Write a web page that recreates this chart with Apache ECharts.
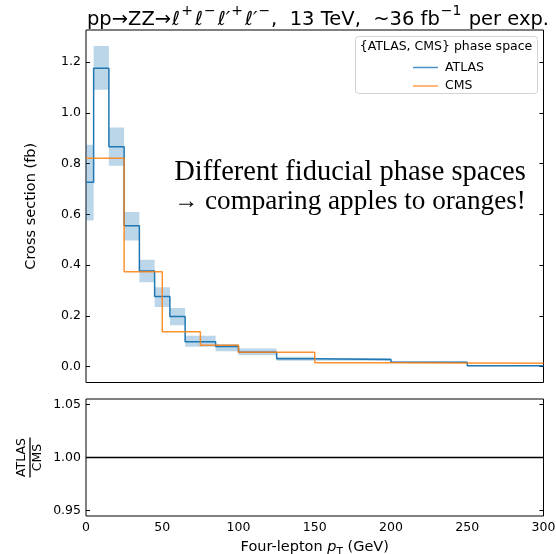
<!DOCTYPE html>
<html>
<head>
<meta charset="utf-8">
<script src="https://cdn.jsdelivr.net/npm/echarts@6/dist/echarts.min.js"></script>
<style>html,body{margin:0;padding:0;background:#fff}#c{width:556px;height:554px}</style>
</head>
<body>
<div id="c"></div>
<script>
// ---- data ----
var atlasEdges = [0, 5, 15, 25, 35, 45, 55, 65, 85, 100, 125, 150, 200, 250, 300];
var atlasVals  = [0.727, 1.176, 0.867, 0.555, 0.377, 0.276, 0.197, 0.098, 0.079, 0.056, 0.030, 0.028, 0.017, 0.003];
var atlasLo    = [0.576, 1.091, 0.792, 0.497, 0.332, 0.235, 0.163, 0.078, 0.060, 0.044, 0.023, 0.023, 0.014, 0.001];
var atlasHi    = [0.874, 1.264, 0.942, 0.609, 0.421, 0.312, 0.231, 0.121, 0.089, 0.071, 0.038, 0.033, 0.020, 0.005];
var cmsEdges   = [0, 25, 50, 75, 100, 150, 200, 300];
var cmsVals    = [0.821, 0.374, 0.137, 0.084, 0.056, 0.0145, 0.0125];
var ratioX     = [0, 300];
var ratioY     = [1.0, 1.0];
var mainTicks  = [0, 0.2, 0.4, 0.6, 0.8, 1.0, 1.2];
var ratioTicks = [0.95, 1.00, 1.05];
var xTicks     = [0, 50, 100, 150, 200, 250, 300];

function stepPts(edges, vals) {
  var p = vals.map(function (v, i) { return [edges[i], v]; });
  p.push([edges[edges.length - 1], vals[vals.length - 1]]);
  return p;
}
var bandData = atlasVals.map(function (v, i) {
  return [atlasEdges[i], atlasEdges[i + 1], atlasLo[i], atlasHi[i]];
});

var FONT = 'DejaVu Sans';
var chart = echarts.init(document.getElementById('c'), null, {renderer: 'canvas'});

var yTickCommon = {inside: true, length: 4, lineStyle: {color: '#000', width: 1}};

chart.setOption({
  animation: false,
  backgroundColor: '#fff',
  title: {
    text: '{n|pp→ZZ→}{l|ℓ}{s|+}{l|ℓ}{s|−}{l|ℓ′}{s|+}{l|ℓ′}{s|−}{n|,  13 TeV,  ~36 fb}{s|−1}{n| per exp.}',
    left: 313, top: -1, textAlign: 'center',
    textStyle: {
      fontWeight: 'normal',
      rich: {
        n: {fontFamily: FONT, fontSize: 19.5, fontWeight: 'normal', color: '#000', lineHeight: 26, verticalAlign: 'bottom'},
        l: {fontFamily: FONT, fontSize: 19.5, fontWeight: 'normal', fontStyle: 'italic', color: '#000', lineHeight: 26, verticalAlign: 'bottom', padding: [0, 0, 0, 1]},
        s: {fontFamily: FONT, fontSize: 14, fontWeight: 'normal', color: '#000', lineHeight: 17, verticalAlign: 'top', padding: [0, 1, 0, 1]}
      }
    }
  },
  grid: [
    {left: 86, right: 12.5, top: 30, height: 352.5, show: true, borderColor: '#000', borderWidth: 1,
     backgroundColor: 'transparent', outerBoundsMode: 'none', containLabel: false},
    {left: 86, right: 12.5, top: 399, height: 117, show: true, borderColor: '#000', borderWidth: 1,
     backgroundColor: 'transparent', outerBoundsMode: 'none', containLabel: false}
  ],
  xAxis: [
    {type: 'value', gridIndex: 0, min: 0, max: 300, interval: 50,
     axisLine: {show: false}, axisTick: {show: false}, axisLabel: {show: false}, splitLine: {show: false}},
    {type: 'value', gridIndex: 1, min: 0, max: 300, interval: 50,
     axisLine: {show: false}, axisTick: {show: false}, splitLine: {show: false},
     axisLabel: {fontFamily: FONT, fontSize: 12.5, color: '#000', margin: 5,
                 customValues: xTicks},
     name: '{a|Four-lepton }{i|p}{t|T}{a| (GeV)}', nameLocation: 'middle', nameGap: 20,
     nameTextStyle: {rich: {
       a: {fontFamily: FONT, fontSize: 14.5, color: '#000', lineHeight: 22, verticalAlign: 'middle'},
       i: {fontFamily: FONT, fontSize: 14.5, fontStyle: 'italic', color: '#000', lineHeight: 22, verticalAlign: 'middle'},
       t: {fontFamily: FONT, fontSize: 10.5, color: '#000', lineHeight: 12, verticalAlign: 'bottom'}
     }}}
  ],
  yAxis: [
    {type: 'value', gridIndex: 0, min: -0.0632, max: 1.327,
     axisLine: {show: false}, splitLine: {show: false},
     axisTick: Object.assign({customValues: mainTicks}, yTickCommon),
     axisLabel: {customValues: mainTicks, fontFamily: FONT, fontSize: 12.5, color: '#000', margin: 5,
                 formatter: function (v) { return v.toFixed(1); }},
     name: 'Cross section (fb)', nameLocation: 'middle', nameGap: 47,
     nameTextStyle: {fontFamily: FONT, fontSize: 14.5, color: '#000'}},
    {type: 'value', gridIndex: 0, position: 'right', min: -0.0632, max: 1.327,
     axisLine: {show: false}, splitLine: {show: false}, axisLabel: {show: false},
     axisTick: Object.assign({customValues: mainTicks}, yTickCommon)},
    {type: 'value', gridIndex: 1, min: 0.945, max: 1.055,
     axisLine: {show: false}, splitLine: {show: false},
     axisTick: Object.assign({customValues: ratioTicks}, yTickCommon),
     axisLabel: {customValues: ratioTicks, fontFamily: FONT, fontSize: 12.5, color: '#000', margin: 5,
                 formatter: function (v) { return v.toFixed(2); }}},
    {type: 'value', gridIndex: 1, position: 'right', min: 0.945, max: 1.055,
     axisLine: {show: false}, splitLine: {show: false}, axisLabel: {show: false},
     axisTick: Object.assign({customValues: ratioTicks}, yTickCommon)}
  ],
  legend: {
    orient: 'vertical', left: 408, top: 56, itemWidth: 25, itemHeight: 1.5, itemGap: 5.5,
    icon: 'rect',
    data: ['ATLAS', 'CMS'],
    textStyle: {fontFamily: FONT, fontSize: 12.5, color: '#000', padding: [0, 0, 0, 2]},
    z: 10
  },
  series: [
    {type: 'custom', name: 'band', xAxisIndex: 0, yAxisIndex: 0, z: 1, clip: true,
     data: bandData,
     renderItem: function (params, api) {
       var p1 = api.coord([api.value(0), api.value(3)]);
       var p2 = api.coord([api.value(1), api.value(2)]);
       return {type: 'rect', shape: {x: p1[0], y: p1[1], width: p2[0] - p1[0], height: p2[1] - p1[1]},
               style: {fill: 'rgba(31,119,180,0.3)'}};
     }},
    {type: 'line', name: 'ATLAS', xAxisIndex: 0, yAxisIndex: 0, step: 'end', symbol: 'none', z: 3,
     data: stepPts(atlasEdges, atlasVals),
     itemStyle: {color: '#4a90c4'}, lineStyle: {color: '#1f77b4', width: 1.5}},
    {type: 'line', name: 'CMS', xAxisIndex: 0, yAxisIndex: 0, step: 'end', symbol: 'none', z: 4,
     data: stepPts(cmsEdges, cmsVals),
     itemStyle: {color: '#ffa04d'}, lineStyle: {color: '#ff7f0e', width: 1.5, opacity: 0.85}},
    {type: 'line', name: 'ratio', xAxisIndex: 1, yAxisIndex: 2, symbol: 'none', z: 3,
     data: ratioX.map(function (x, i) { return [x, ratioY[i]]; }),
     lineStyle: {color: '#000', width: 1.5}}
  ],
  graphic: [
    {type: 'rect', z: 5, shape: {x: 355.5, y: 36.5, width: 182, height: 57, r: 3},
     style: {fill: 'rgba(255,255,255,0.8)', stroke: '#d3d3d3', lineWidth: 1}},
    {type: 'text', z: 6, x: 446, y: 47,
     style: {text: '{ATLAS, CMS} phase space', font: '12.5px "DejaVu Sans"', fill: '#000', align: 'center', verticalAlign: 'middle'}},
    {type: 'text', z: 6, x: 350, y: 187,
     style: {text: '{t|Different fiducial phase spaces}\n{a|→}{u| comparing apples to oranges!}',
             fill: '#000', align: 'center', verticalAlign: 'middle',
             rich: {
               t: {fontFamily: 'Liberation Serif', fontSize: 28.5, lineHeight: 29, fill: '#000'},
               u: {fontFamily: 'Liberation Serif', fontSize: 27.2, lineHeight: 29, fill: '#000'},
               a: {fontFamily: 'Liberation Serif', fontSize: 24, lineHeight: 29, fill: '#000'}
             }}},
    {type: 'group', x: 30, y: 457.5, rotation: Math.PI / 2, children: [
      {type: 'text', x: 0, y: -1.5, style: {text: 'ATLAS', font: '12.5px "DejaVu Sans"', fill: '#000', align: 'center', verticalAlign: 'bottom'}},
      {type: 'line', shape: {x1: -20, y1: 0, x2: 20, y2: 0}, style: {stroke: '#000', lineWidth: 1.3}},
      {type: 'text', x: 0, y: 1.5, style: {text: 'CMS', font: '12.5px "DejaVu Sans"', fill: '#000', align: 'center', verticalAlign: 'top'}}
    ]}
  ]
});
</script>
</body>
</html>
